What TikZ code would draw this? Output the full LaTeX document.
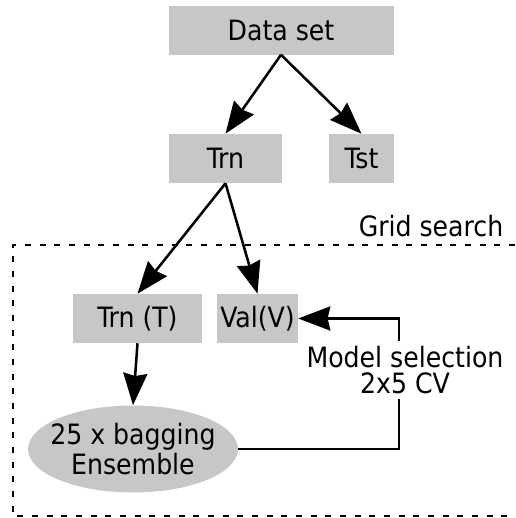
\documentclass[tikz,border=0pt]{standalone}
\usepackage{fontspec}
\setmainfont{DejaVu Sans Condensed}
\usetikzlibrary{arrows.meta,shapes.geometric}
\newcommand{\pxu}{0.75pt} % One pixel of the layout.

\begin{document}
\begin{tikzpicture}[x=\pxu,y=-\pxu,font=\fontsize{21}{19}\selectfont,
                    box/.style={fill=black!22,inner sep=0pt,minimum height=49*\pxu},
                    link/.style={line width=1.9pt,-{Stealth[length=24pt,width=18pt,inset=2pt]}},
                    plain/.style={line width=1.9pt},
                    frame/.style={line width=1.6pt,dash pattern=on 4.5pt off 6.5pt}]
\useasboundingbox (0,0) rectangle (515,518);
\node[box,minimum width=225*\pxu] (data) at (281,30) {Data set};
\node[box,minimum width=113*\pxu] (trn) at (225.5,158.5) {Trn};
\node[box,minimum width=65*\pxu] (tst) at (361.5,158.5) {Tst};
\node[box,minimum width=129*\pxu] (trnT) at (137.5,318.5) {Trn (T)};
\node[box,minimum width=81*\pxu] (val) at (257.5,318.5) {Val(V)};
\node[ellipse,fill=black!22,inner sep=0pt,minimum width=210*\pxu,minimum height=87*\pxu,
      label={[align=center,font=\fontsize{21}{22}\selectfont]center:25 x bagging\\Ensemble}]
      (ens) at (133,449) {};
\node[align=center,inner sep=4pt] (sel) at (405,370) {Model selection\\2x5 CV};
\node (grid) at (431,226) {Grid search};
\coordinate (cb) at (399,449);

\draw[link] (data.south) -- (trn.north);
\draw[link] (data.south) -- (tst.north);
\draw[link] (trn.south) -- (trnT.north);
\draw[link] (trn.south) -- (val.north);
\draw[link] (trnT.south) -- (ens.north);
\draw[plain] (ens.east) -- (cb) -- (cb |- sel.south);
\draw[link] (cb |- sel.north) |- (val.east);

\draw[frame] (515,245) -- (13,245) -- (13,516) -- (515,516);
\end{tikzpicture}
\end{document}
